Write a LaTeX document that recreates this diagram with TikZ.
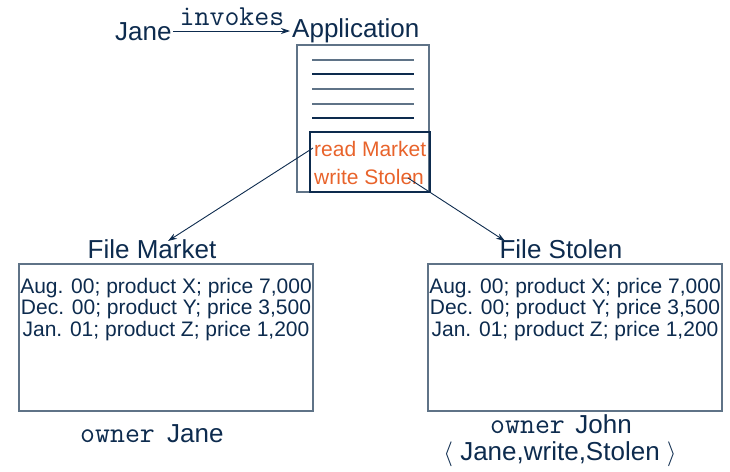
\documentclass[tikz,border=0pt]{standalone}
\usepackage{fontspec}
\setmainfont{Liberation Sans}
\usetikzlibrary{arrows.meta}
\definecolor{navy}{HTML}{0D2B4E}
\definecolor{boxgray}{HTML}{5F7387}
\definecolor{rust}{HTML}{E8632B}
\tikzset{
  big/.style={inner sep=0pt, text=navy, font=\fontsize{26}{28}\selectfont},
  row/.style={inner sep=0pt, text=navy, font=\fontsize{21}{23}\selectfont},
  orangetxt/.style={inner sep=0pt, text=rust, font=\fontsize{21}{23}\selectfont},
  mono/.style={inner sep=0pt, text=navy, font=\fontsize{29}{31}\ttfamily},
  filebox/.style={draw=boxgray, line width=1.3pt},
  conn/.style={draw=navy, line width=0.9pt, -{Stealth[length=9pt,width=6pt]}},
  rule/.style={line width=1.3pt}
}
\begin{document}
\begin{tikzpicture}[x=1pt,y=-1pt]
\useasboundingbox (0,0) rectangle (730,471);
% top line
\node[big, anchor=base west] (jane) at (115,40) {Jane};
\node[big, anchor=base west] (app) at (292,37) {Application};
\node[mono, anchor=base] (inv) at (232,25) {invokes};
\coordinate (ja) at (173,31);
\coordinate (ap) at (290,31);
\draw[conn] (ja) -- (ap);
% application box
\draw[filebox] (297,45) rectangle (429,192);
\draw[rule, draw=boxgray] (312,60) -- (414,60);
\draw[rule, draw=navy] (312,74) -- (414,74);
\draw[rule, draw=boxgray] (312,89) -- (414,89);
\draw[rule, draw=boxgray] (312,104) -- (414,104);
\draw[rule, draw=navy] (312,118) -- (414,118);
\draw[draw=navy, line width=2.2pt] (310,132) rectangle (430,192);
\node[orangetxt, anchor=base west] (rm) at (314,156) {read Market};
\node[orangetxt, anchor=base west] (ws) at (314,184) {write Stolen};
% file market
\node[big, anchor=base] (fm) at (152,258) {File Market};
\draw[filebox] (19,264) rectangle (313,411);
\node[row, anchor=base] (m1) at (166,293) {Aug. 00; product X; price 7,000};
\node[row, anchor=base] (m2) at (166,314) {Dec. 00; product Y; price 3,500};
\node[row, anchor=base] (m3) at (166,336) {Jan. 01; product Z; price 1,200};
\node[mono, anchor=base west] (ow1) at (80,442) {owner};
\node[big, anchor=base west] (oj1) at (167,442) {Jane};
% file stolen
\node[big, anchor=base] (fs) at (561,258) {File Stolen};
\draw[filebox] (428,264) rectangle (722,411);
\node[row, anchor=base] (s1) at (575,293) {Aug. 00; product X; price 7,000};
\node[row, anchor=base] (s2) at (575,314) {Dec. 00; product Y; price 3,500};
\node[row, anchor=base] (s3) at (575,336) {Jan. 01; product Z; price 1,200};
\node[mono, anchor=base west] (ow2) at (490,433) {owner};
\node[big, anchor=base east] (oj2) at (632,433) {John};
\node[big, anchor=base] (acl) at (560,460) {$\langle$ Jane,write,Stolen $\rangle$};
% connectors
\coordinate (rmstart) at (313,148);
\coordinate (fmtip) at (168,241);
\coordinate (wsstart) at (408,178);
\coordinate (fstip) at (505,241);
\draw[conn] (rmstart) -- (fmtip);
\draw[conn] (wsstart) -- (fstip);
\end{tikzpicture}
\end{document}
